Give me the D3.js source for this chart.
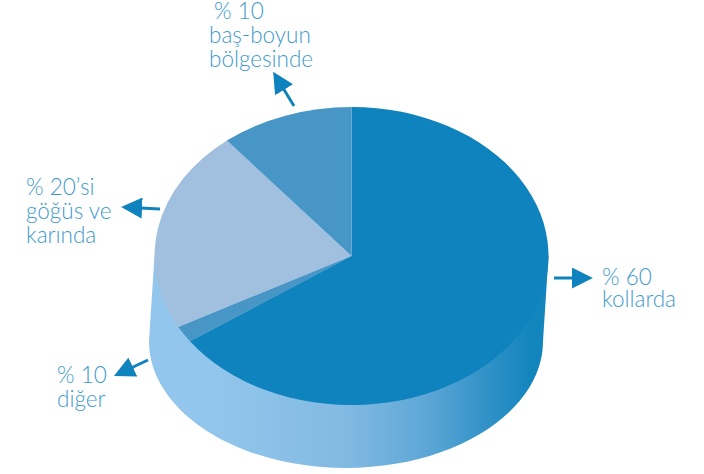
<!DOCTYPE html>
<html>
<head>
<meta charset="utf-8">
<script src="https://cdn.jsdelivr.net/npm/d3@7"></script>
<style>
  html, body { margin: 0; padding: 0; background: #fff; }
  text { font-family: Lato, sans-serif; font-weight: 300; font-size: 22.5px; fill: #3f9acd; }
</style>
</head>
<body>
<div id="chart"></div>
<script>
// slice sizes as drawn (the picture does not follow its own labels exactly)
const sliceNames = ['kollarda', 'diğer', 'göğüs ve karında', 'baş-boyun bölgesinde'];
const sliceValues = [65.3, 1.8, 22.0, 10.9];
const sliceColors = ['#0f83bd', '#4796c6', '#a1bfde', '#4796c6'];

const labelLines = [
    ['% 60', 'kollarda'],
    ['% 10', 'diğer'],
    ['% 20’si', 'göğüs ve', 'karında'],
    ['% 10', 'baş-boyun', 'bölgesinde']
];

const width = 704, height = 474;
const cx = 351.5, cy = 256, rx = 197, ry = 149;
const wallLeft = 149, wallRight = 543, wallBottom = 468, wallSideY = 341;

const svg = d3.select('#chart').append('svg')
    .attr('width', width)
    .attr('height', height);

const defs = svg.append('defs');

let wallGradient = defs.append('linearGradient')
    .attr('id', 'wall')
    .attr('gradientUnits', 'userSpaceOnUse')
    .attr('x1', wallLeft).attr('x2', wallRight)
    .attr('y1', 0).attr('y2', 0);
wallGradient.append('stop').attr('offset', '0.15').attr('stop-color', '#93c6ec');
wallGradient.append('stop').attr('offset', '0.5').attr('stop-color', '#82bae3');
wallGradient.append('stop').attr('offset', '0.7').attr('stop-color', '#5ea7d6');
wallGradient.append('stop').attr('offset', '0.85').attr('stop-color', '#3393c8');
wallGradient.append('stop').attr('offset', '0.97').attr('stop-color', '#1285bd');

defs.append('marker')
    .attr('id', 'head')
    .attr('viewBox', '0 0 20 20')
    .attr('refX', 2).attr('refY', 10)
    .attr('markerWidth', 21).attr('markerHeight', 21)
    .attr('markerUnits', 'userSpaceOnUse')
    .attr('orient', 'auto')
    .append('path')
    .attr('d', 'M0,0L20,10L0,20Z')
    .attr('fill', '#0f83bd');

// side of the cylinder: squarer than an ellipse at the lower corners
const wallMid = (wallLeft + wallRight) / 2;
const k = 0.552 * (wallRight - wallLeft) / 2;
const ky = 0.552 * (wallBottom - wallSideY);
const wall = d3.path();
wall.moveTo(cx - rx, cy);
wall.lineTo(wallLeft, wallSideY);
wall.bezierCurveTo(wallLeft, wallSideY + ky, wallMid - k, wallBottom, wallMid, wallBottom);
wall.bezierCurveTo(wallMid + k, wallBottom, wallRight, wallSideY + ky, wallRight, wallSideY);
wall.lineTo(cx + rx, cy);
wall.closePath();
svg.append('path')
    .attr('d', wall.toString())
    .attr('fill', 'url(#wall)');

// top face: an ordinary pie squashed to an ellipse
const pie = d3.pie().sort(null)(sliceValues);
const arc = d3.arc().innerRadius(0).outerRadius(rx);

svg.append('g')
    .attr('transform', `translate(${cx},${cy}) scale(1,${ry / rx})`)
    .selectAll('path')
    .data(pie)
    .join('path')
    .attr('d', arc)
    .attr('fill', (d, i) => sliceColors[i]);

// arrows
const arrowPos = [
    [554, 278, 574, 278],
    [148, 360, 131, 368],
    [160, 209, 140, 208],
    [294, 106, 283, 88]
];
svg.append('g').selectAll('line')
    .data(arrowPos)
    .join('line')
    .attr('x1', d => d[0]).attr('y1', d => d[1])
    .attr('x2', d => d[2]).attr('y2', d => d[3])
    .attr('stroke', '#0f83bd')
    .attr('stroke-width', 3)
    .attr('marker-end', 'url(#head)');

// labels
const labelPos = [[602, 285], [57, 383], [26, 195], [209, 19]];
const labelLead = [22, 24, 24, 24];
const labelIndent = [0, 0, 0, 5];

const labels = svg.append('g').selectAll('text')
    .data(labelLines)
    .join('text')
    .attr('x', (d, i) => labelPos[i][0])
    .attr('y', (d, i) => labelPos[i][1]);

labels.selectAll('tspan')
    .data((d, i) => d.map((t, j) => ({ t, j, i })))
    .join('tspan')
    .attr('x', d => labelPos[d.i][0] + (d.j === 0 ? labelIndent[d.i] : 0))
    .attr('dy', d => d.j === 0 ? 0 : labelLead[d.i])
    .text(d => d.t);
</script>
</body>
</html>
